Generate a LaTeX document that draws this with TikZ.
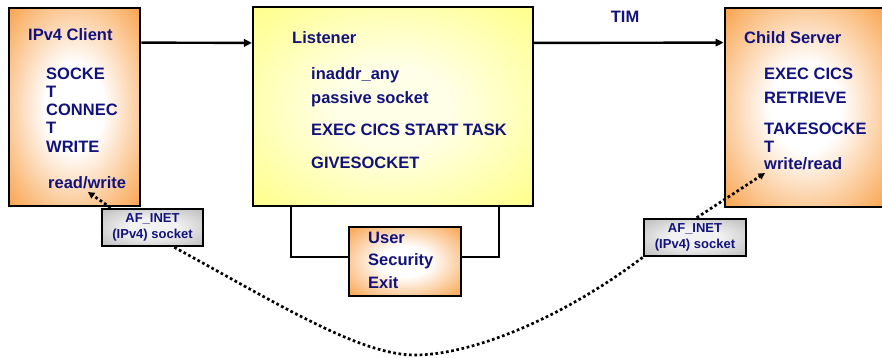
\documentclass[tikz,border=0pt]{standalone}
\usepackage{xcolor}
\usepackage{fontspec}
\setmainfont{Liberation Sans}
\usepackage{tikz}
\usetikzlibrary{
	arrows.meta,
	positioning,
	calc
}
\definecolor{boxorange}{RGB}{247,146,44}
\definecolor{yellowout}{RGB}{255,255,102}
\definecolor{yellowin}{RGB}{255,255,232}
\definecolor{grayout}{RGB}{160,160,160}
\definecolor{grayin}{RGB}{242,242,242}
\definecolor{labelblue}{RGB}{18,18,125}
\pgfdeclareradialshading{orangeglow}{\pgfpoint{0bp}{0bp}}{color(0bp)=(white); color(11bp)=(white); color(40bp)=(boxorange); color(50bp)=(boxorange)}
\pgfdeclareradialshading{yellowglow}{\pgfpoint{0bp}{0bp}}{color(0bp)=(yellowin); color(10bp)=(yellowin); color(45bp)=(yellowout); color(50bp)=(yellowout)}
\pgfdeclareradialshading{grayglow}{\pgfpoint{0bp}{0bp}}{color(0bp)=(grayin); color(12bp)=(grayin); color(48bp)=(grayout); color(50bp)=(grayout)}

\begin{document}
\begin{tikzpicture}[
				x=1pt, y=-1pt,
				orangebox/.style={
					rectangle, draw, line width=2.8,
					shading=orangeglow, inner sep=0
				},
				yellowbox/.style={
					orangebox, shading=yellowglow, line width=2.2
				},
				sockbox/.style={
					rectangle, draw, line width=2.6, shading=grayglow,
					align=center, inner sep=0, text=labelblue,
					font=\bfseries\fontsize{13}{16}\selectfont
				},
				calltext/.style={
					anchor=base west, inner sep=0, text=labelblue,
					font=\bfseries\fontsize{16.5}{18.2}\selectfont
				},
				arrow/.style={-{Triangle[length=8pt,width=7.5pt]}, line width=2.4},
				conn/.style={line width=2.4},
				dotline/.style={line width=2.7, dash pattern=on 2.7pt off 2.6pt},
				dotarrow/.style={dotline, -{Triangle[length=6.5pt,width=6.5pt]}},
				]
				\useasboundingbox (0,0) rectangle (882,357);
				
				%client
				\node[orangebox, minimum width=131, minimum height=198] (client) at (74.5,107) {};
				\node[calltext] (ctitle) at (28,40) {IPv4 Client};
				\node[calltext, anchor=north west, align=left] (ccalls) at (46,67.5) {SOCKE\\T\\CONNEC\\T\\WRITE};
				\node[calltext] (crw) at (48,188) {read/write};
				
				%listener
				\node[yellowbox, minimum width=280, minimum height=199] (listener) at (393,106.5) {};
				\node[calltext] (ltitle) at (292,43) {Listener};
				\node[calltext] (laddr) at (311,79) {inaddr\_any};
				\node[calltext] (lpass) at (311,103) {passive socket};
				\node[calltext] (lstart) at (311,135) {EXEC CICS START TASK};
				\node[calltext] (lgive) at (311,168) {GIVESOCKET};
				\draw [arrow] ([yshift=-36]client.north east) -- ([yshift=-37]listener.north west);
				
				%user exit
				\node[orangebox, minimum width=112, minimum height=69] (usrexit) at (405,261.5) {};
				\node[calltext, anchor=north west, align=left, font=\bfseries\fontsize{16.5}{22.5}\selectfont] (usrtext) at (368,231.5) {User\\Security\\Exit};
				\draw [conn] ([xshift=39]listener.south west) |- ([yshift=4.5]usrexit.west);
				\draw [conn] ([xshift=-35]listener.south east) |- ([yshift=4.5]usrexit.east);
				
				%child server
				\node[orangebox, minimum width=161, minimum height=199] (child) at (805.5,107.5) {};
				\node[calltext] (stitle) at (744,43) {Child Server};
				\node[calltext] (sexec) at (764,79) {EXEC CICS};
				\node[calltext] (sretr) at (764,103) {RETRIEVE};
				\node[calltext, anchor=north west, align=left, font=\bfseries\fontsize{16.5}{18}\selectfont] (stake) at (764,123.2) {TAKESOCKE\\T};
				\node[calltext] (srw) at (764,169) {write/read};
				\draw [arrow] ([yshift=-37]listener.north east) -- ([yshift=-36]child.north west)
					node [pos=0.48, above=19pt, calltext, anchor=south] (tim) {TIM};
				
				%sockets
				\node[sockbox, minimum width=101, minimum height=37] (sockl) at (152.5,227.5) {AF\_INET\\(IPv4) socket};
				\node[sockbox, minimum width=102, minimum height=37] (sockr) at (695,237.5) {AF\_INET\\(IPv4) socket};
				
				\coordinate (ctip) at (88,192);
				\coordinate (stip) at (765,173);
				\coordinate (dip) at (415,355);
				\draw [dotarrow] ([xshift=10]sockl.north west) -- (ctip);
				\draw [dotarrow] ([xshift=54]sockr.north west) -- (stip);
				\draw [dotline] ([xshift=-30]sockl.south east) .. controls (280,305) and (360,355) .. (dip)
					.. controls (470,355) and (560,320) .. (sockr.south west);
\end{tikzpicture}
\end{document}
